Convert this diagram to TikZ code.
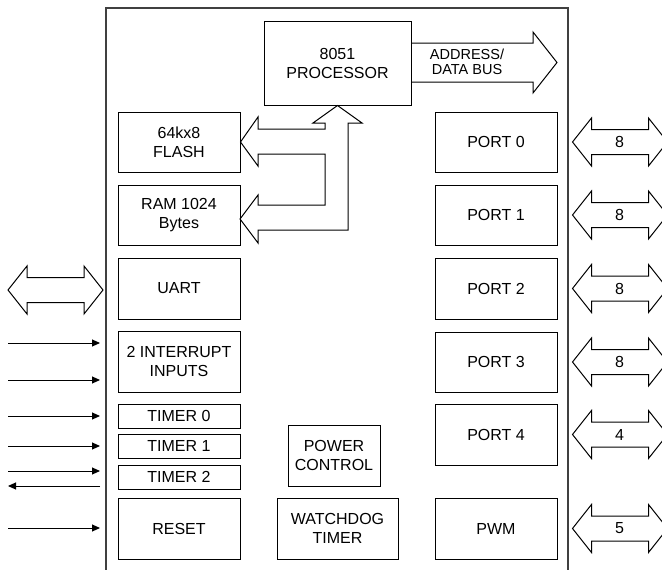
\documentclass[tikz,border=0pt]{standalone}
\usepackage{fontspec}
\setmainfont{Liberation Sans}
\usetikzlibrary{arrows.meta,calc}
\tikzset{
    >=Stealth,
    mcu/.style={
        x=1pt,y=-1pt,
        every node/.append style={font=\fontsize{16}{19}\selectfont},
        block/.append style={draw,line width=1pt,align=center,inner sep=0pt,minimum width=122pt,minimum height=60pt},
        bus/.append style={draw,line width=1pt,line join=miter},
        sig/.append style={draw,line width=1pt,-{Triangle[length=8pt,width=7pt]}},
        frame/.append style={draw,line width=1.3pt,black!75}
    },
    pics/dbus/.style={code={
        \draw[bus] (0,0) -- (19,-24) -- (19,-12.5) -- (19+#1,-12.5) -- (19+#1,-24) -- (38+#1,0)
            -- (19+#1,24) -- (19+#1,12.5) -- (19,12.5) -- (19,24) -- cycle;
    }}
}

\begin{document}
\begin{tikzpicture}[mcu]
    \clip (0,0) rectangle (662,570);
    \draw[frame] (106,570) -- (106,8) -- (568,8) -- (568,570);
    % left column
    \node[block] (flash) at (179,142) {64kx8\\FLASH};
    \node[block] (ram) at (179,215) {RAM 1024\\Bytes};
    \node[block,minimum height=61pt] (uart) at (179,288.5) {UART};
    \node[block,minimum height=61pt] (intr) at (179,361.5) {2 INTERRUPT\\INPUTS};
    \node[block,minimum height=24pt] (tmr0) at (179,416) {TIMER 0};
    \node[block,minimum height=24pt] (tmr1) at (179,446) {TIMER 1};
    \node[block,minimum height=24pt] (tmr2) at (179,477) {TIMER 2};
    \node[block,minimum height=61pt] (rst) at (179,528.5) {RESET};
    % middle
    \node[block,minimum width=147pt,minimum height=84pt] (proc) at (337.5,63) {8051\\PROCESSOR};
    \node[block,minimum width=92pt,minimum height=61pt] (pwr) at (334,455.5) {POWER\\CONTROL};
    \node[block,minimum width=121pt,minimum height=61pt] (wdt) at (337.5,528.5) {WATCHDOG\\TIMER};
    % right column
    \node[block] (port0) at (496,142) {PORT 0};
    \node[block] (port1) at (496,215) {PORT 1};
    \node[block,minimum height=61pt] (port2) at (496,288.5) {PORT 2};
    \node[block] (port3) at (496,362) {PORT 3};
    \node[block,minimum height=61pt] (port4) at (496,434.5) {PORT 4};
    \node[block,minimum height=61pt] (pwm) at (496,528.5) {PWM};
    % memory bus
    \draw[bus] (flash.east) -- (258,117) -- (258,129) -- (325,129) -- (325,123) -- (313,123)
        -- (proc.south) -- (362,123) -- (348,123) -- (348,230) -- (258,230) -- (258,243)
        -- (240,219) -- (258,195) -- (258,205) -- (325,205) -- (325,154) -- (258,154)
        -- (258,166) -- cycle;
    % address/data bus
    \draw[bus] (proc.east |- 0,43) -- (533,43) -- (533,32) -- (557,62.5) -- (533,93) -- (533,82)
        -- (proc.east |- 0,82);
    \node[font=\fontsize{14.5}{15}\selectfont,align=center] (abus) at (467,62) {ADDRESS/\\DATA BUS};
    % io buses
    \pic (ubus) at (8,290) {dbus=57};
    \foreach \p/\w in {port0/8,port1/8,port2/8,port3/8,port4/4,pwm/5}{
        \pic at ($(\p.east)+(15,0)$) {dbus=57};
        \node (\p-w) at ($(\p.east)+(62,0)$) {\w};
    }
    % signal lines
    \foreach \y in {343,380,416,446,471,528}
        \draw[sig] (8,\y) -- (100,\y);
    \draw[sig] (100,486) -- (8,486);
\end{tikzpicture}
\end{document}
